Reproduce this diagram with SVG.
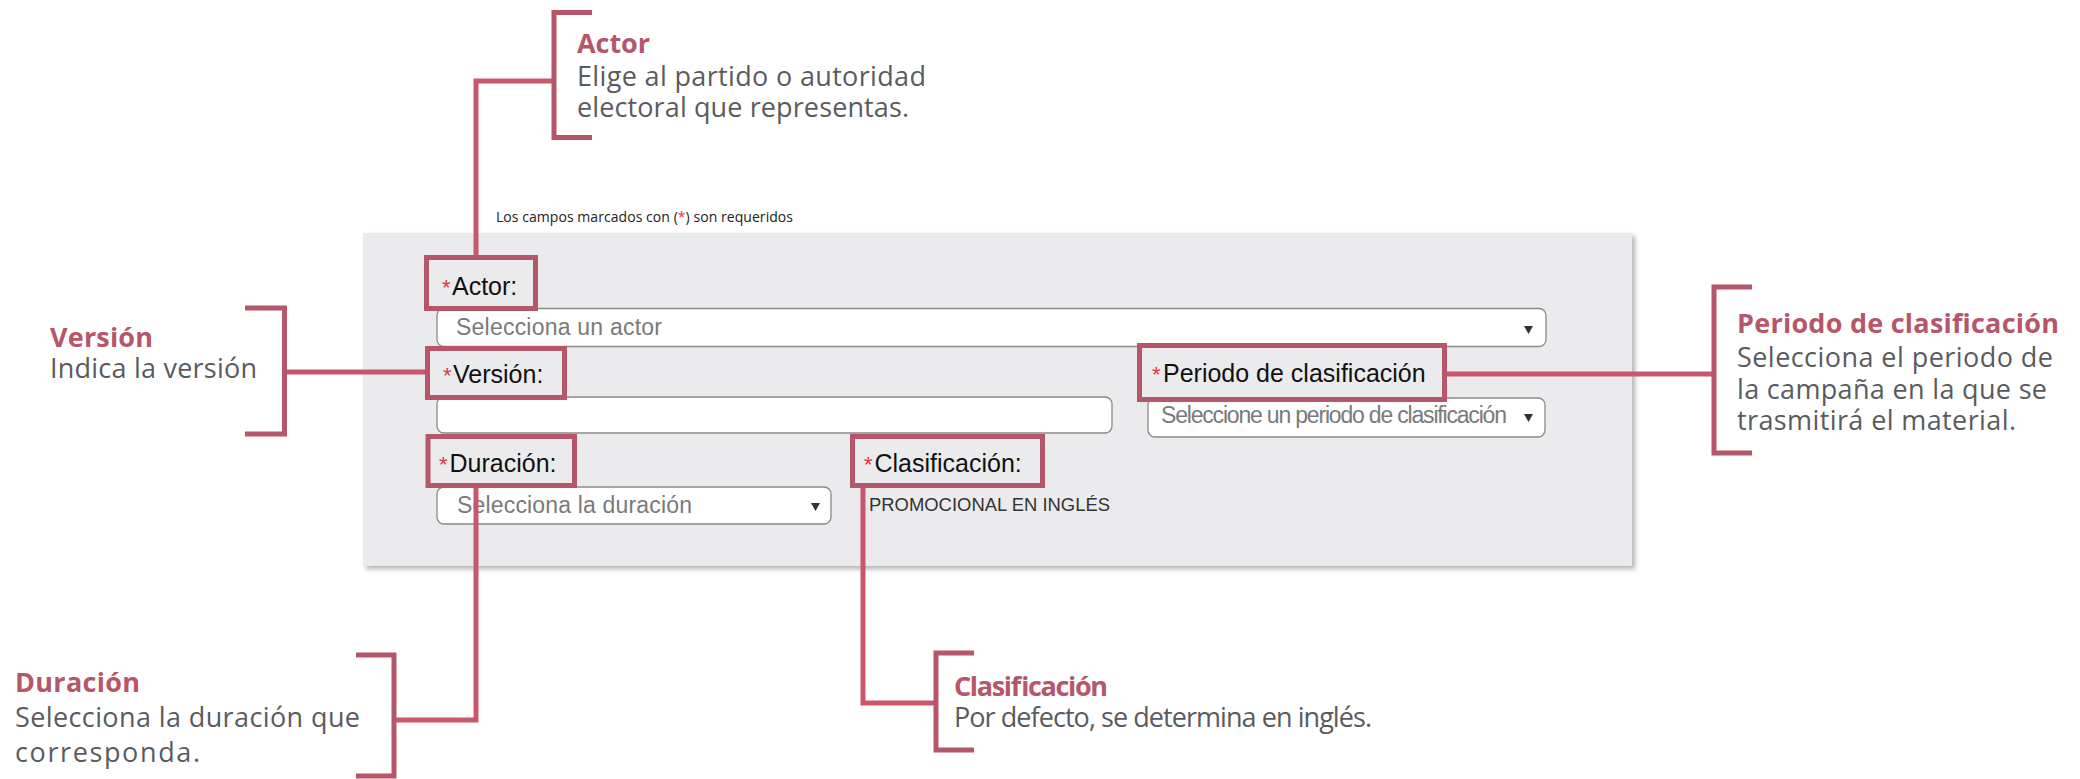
<svg xmlns="http://www.w3.org/2000/svg" width="2080" height="779" viewBox="0 0 2080 779">
<defs>
<filter id="sh" x="-5%" y="-5%" width="110%" height="115%">
<feDropShadow dx="3" dy="3" stdDeviation="2.5" flood-color="#000" flood-opacity="0.3"/>
</filter>
<style>
.br{fill:none;stroke:#b6566a;stroke-width:5}
.cn{fill:none;stroke:#c9566c;stroke-width:5}
.lb{fill:none;stroke:#b6566a;stroke-width:5}
.tt{font-family:"Open Sans","Noto Sans",sans-serif;font-weight:700;font-size:27px;fill:#b6566a}
.bd{font-family:"Open Sans","Noto Sans",sans-serif;font-size:27px;fill:#5a5b5e}
.fl{font-family:"Liberation Sans",Arial,sans-serif;font-size:25px;fill:#111}
.ast{font-family:"Liberation Sans",Arial,sans-serif;font-size:22px;fill:#e8323c}
.ph{font-family:"Liberation Sans",Arial,sans-serif;font-size:23px;fill:#7a7a7a}
.inp{fill:#fff;stroke:#8a8a8a;stroke-width:1.3}
.arr{fill:#333}
</style>
</defs>
<rect width="2080" height="779" fill="#fff"/>

<g id="form">
<text x="496" y="222" font-family="'Open Sans','Noto Sans',sans-serif" font-size="14" fill="#222" textLength="297">Los campos marcados con (<tspan fill="#e8323c">*</tspan>) son requeridos</text>
<rect x="363" y="233" width="1269" height="333" fill="#ebebed" filter="url(#sh)"/>
<rect class="inp" x="437" y="308.5" width="1109" height="38" rx="7"/>
<text class="ph" x="456" y="335" textLength="206">Selecciona un actor</text>
<path class="arr" d="M1524,326 L1533,326 L1528.5,334 Z"/>
<rect class="inp" x="437" y="397" width="675" height="36" rx="7"/>
<rect class="inp" x="1148" y="398" width="397" height="39" rx="7"/>
<text class="ph" x="1161" y="423" font-size="20" textLength="346">Seleccione un periodo de clasificación</text>
<path class="arr" d="M1524,414 L1533,414 L1528.5,422 Z"/>
<rect class="inp" x="437" y="487" width="394" height="37" rx="7"/>
<text class="ph" x="457" y="513" textLength="235">Selecciona la duración</text>
<path class="arr" d="M811,503 L820,503 L815.5,511 Z"/>
<text x="869" y="511" font-family="'Liberation Sans',Arial,sans-serif" font-size="18" fill="#333" textLength="241" lengthAdjust="spacingAndGlyphs">PROMOCIONAL EN INGLÉS</text>
</g>

<g id="connectors">
<path class="cn" d="M554,81 H476 V255"/>
<path class="cn" d="M284.5,372 H425"/>
<path class="cn" d="M1447,374 H1714"/>
<path class="cn" d="M476,488 V720 H394"/>
<path class="cn" d="M863,488 V703 H936"/>
</g>

<g id="field-actor">
<rect class="lb" x="426.5" y="257.5" width="109" height="51"/>
<text x="442" y="295"><tspan class="ast">*</tspan><tspan class="fl" x="452">Actor:</tspan></text>
</g>
<g id="field-version">
<rect class="lb" x="427.5" y="348.5" width="137" height="49"/>
<text x="443" y="383"><tspan class="ast">*</tspan><tspan class="fl" x="453">Versión:</tspan></text>
</g>
<g id="field-periodo">
<rect class="lb" x="1139.5" y="345.5" width="305" height="54"/>
<text x="1152" y="382"><tspan class="ast">*</tspan><tspan class="fl" x="1163">Periodo de clasificación</tspan></text>
</g>
<g id="field-duracion">
<rect class="lb" x="428" y="436.5" width="146.5" height="49"/>
<text x="439" y="472"><tspan class="ast">*</tspan><tspan class="fl" x="449.5">Duración:</tspan></text>
</g>
<g id="field-clasificacion">
<rect class="lb" x="852.5" y="436.5" width="190" height="49"/>
<text x="864" y="472"><tspan class="ast">*</tspan><tspan class="fl" x="874.5">Clasificación:</tspan></text>
</g>

<g id="note-actor">
<path class="br" d="M592,12.5 H554 V137.5 H592"/>
<text class="tt" x="577" y="53" textLength="73">Actor</text>
<text class="bd" x="577" y="86" textLength="349">Elige al partido o autoridad</text>
<text class="bd" x="577" y="117" textLength="332">electoral que representas.</text>
</g>
<g id="note-version">
<path class="br" d="M245,308 H284.5 V434 H245"/>
<text class="tt" x="50" y="347" textLength="103">Versión</text>
<text class="bd" x="50" y="378" textLength="207">Indica la versión</text>
</g>
<g id="note-periodo">
<path class="br" d="M1752,287 H1714 V453 H1752"/>
<text class="tt" x="1737" y="333" textLength="322">Periodo de clasificación</text>
<text class="bd" x="1737" y="367" textLength="316">Selecciona el periodo de</text>
<text class="bd" x="1737" y="399" textLength="310">la campaña en la que se</text>
<text class="bd" x="1737" y="430" textLength="279">trasmitirá el material.</text>
</g>
<g id="note-duracion">
<path class="br" d="M356,655 H394 V776 H356"/>
<text class="tt" x="15" y="692" textLength="125">Duración</text>
<text class="bd" x="15" y="727" textLength="345">Selecciona la duración que</text>
<text class="bd" x="15" y="762" textLength="185">corresponda.</text>
</g>
<g id="note-clasificacion">
<path class="br" d="M974,653 H936 V750 H974"/>
<text class="tt" x="954" y="696" textLength="154">Clasificación</text>
<text class="bd" x="954" y="727" textLength="418">Por defecto, se determina en inglés.</text>
</g>
</svg>
